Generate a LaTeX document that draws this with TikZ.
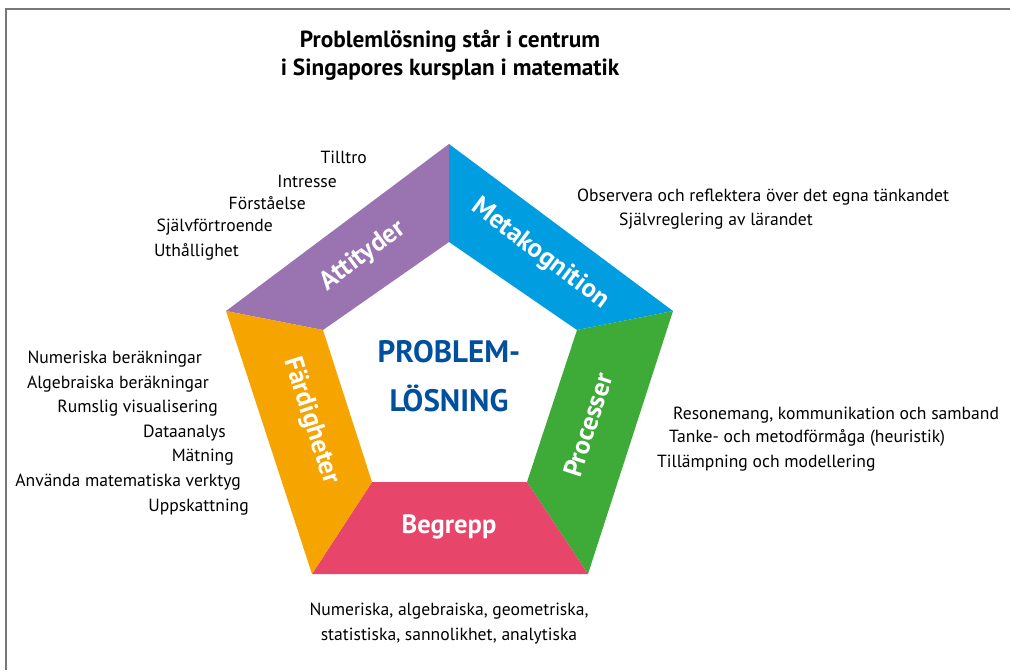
\documentclass[tikz,border=0pt]{standalone}
\usepackage{fontspec}
\setmainfont{PT Sans}
\definecolor{framegray}{RGB}{120,120,120}
\definecolor{attpurple}{RGB}{154,116,176}
\definecolor{metablue}{RGB}{0,158,224}
\definecolor{procgreen}{RGB}{62,170,56}
\definecolor{begrpink}{RGB}{232,69,106}
\definecolor{fardorange}{RGB}{245,164,0}
\definecolor{centerblue}{RGB}{0,80,158}
\begin{document}
\begin{tikzpicture}[x=1pt,y=-1pt,
  listtext/.style={inner sep=0pt, font=\fontsize{17.6}{20}\selectfont, text=black},
  bandlabel/.style={inner sep=0pt, font=\fontsize{26.5}{30}\selectfont\bfseries, text=white},
  titletext/.style={inner sep=0pt, font=\fontsize{23.3}{27}\selectfont\bfseries, text=black},
  centertext/.style={inner sep=0pt, font=\fontsize{31}{35}\selectfont\bfseries, text=centerblue}]
\useasboundingbox (0,0) rectangle (1010,670);
% frame lines
\draw[framegray, line width=1.5pt] (6,670) -- (6,9) -- (1010,9);

% outer pentagon corners
\coordinate (Ot) at (449,144);
\coordinate (Or) at (673,311);
\coordinate (Obr) at (588,574);
\coordinate (Obl) at (312,574);
\coordinate (Ol) at (226,311);
% inner pentagon corners
\coordinate (It) at (449,242);
\coordinate (Ir) at (577,330);
\coordinate (Ibr) at (527,482);
\coordinate (Ibl) at (372,482);
\coordinate (Il) at (323,330);

% the five bands
\fill[attpurple] (Ot) -- (Ol) -- (Il) -- (It) -- cycle;
\fill[metablue] (Ot) -- (Or) -- (Ir) -- (It) -- cycle;
\fill[procgreen] (Or) -- (Obr) -- (Ibr) -- (Ir) -- cycle;
\fill[begrpink] (Obr) -- (Obl) -- (Ibl) -- (Ibr) -- cycle;
\fill[fardorange] (Obl) -- (Ol) -- (Il) -- (Ibl) -- cycle;

% band labels
\node[bandlabel, rotate=36.8] (attityder) at (363,256) {Attityder};
\node[bandlabel, rotate=-36.8] (metakog) at (540,254) {Metakognition};
\node[bandlabel, rotate=72] (processer) at (588,425) {Processer};
\node[bandlabel] (begrepp) at (449,527) {Begrepp};
\node[bandlabel, rotate=-72] (fardigheter) at (311,421) {Färdigheter};

% centre
\node[centertext] (problem) at (449,352) {PROBLEM-};
\node[centertext] (losning) at (449,398) {LÖSNING};

% title
\node[titletext] (title1) at (450,41) {Problemlösning står i centrum};
\node[titletext] (title2) at (450,70) {i Singapores kursplan i matematik};

% attityder list
\node[listtext, anchor=east] (a1) at (367,157) {Tilltro};
\node[listtext, anchor=east] (a2) at (337,181) {Intresse};
\node[listtext, anchor=east] (a3) at (306,203) {Förståelse};
\node[listtext, anchor=east] (a4) at (273,227) {Självförtroende};
\node[listtext, anchor=east] (a5) at (239,252) {Uthållighet};

% metakognition list
\node[listtext, anchor=west] (m1) at (577,197) {Observera och reflektera över det egna tänkandet};
\node[listtext, anchor=west] (m2) at (619,221) {Självreglering av lärandet};

% processer list
\node[listtext, anchor=west] (p1) at (673,415) {Resonemang, kommunikation och samband};
\node[listtext, anchor=west] (p2) at (669,438) {Tanke- och metodförmåga (heuristik)};
\node[listtext, anchor=west] (p3) at (657,463) {Tillämpning och modellering};

% färdigheter list
\node[listtext, anchor=east] (f1) at (202,359) {Numeriska beräkningar};
\node[listtext, anchor=east] (f2) at (209,384) {Algebraiska beräkningar};
\node[listtext, anchor=east] (f3) at (218,408) {Rumslig visualisering};
\node[listtext, anchor=east] (f4) at (226,433) {Dataanalys};
\node[listtext, anchor=east] (f5) at (234,457) {Mätning};
\node[listtext, anchor=east] (f6) at (241,482) {Använda matematiska verktyg};
\node[listtext, anchor=east] (f7) at (249,507) {Uppskattning};

% begrepp list
\node[listtext] (b1) at (449,611) {Numeriska, algebraiska, geometriska,};
\node[listtext] (b2) at (449,636) {statistiska, sannolikhet, analytiska};
\end{tikzpicture}
\end{document}
